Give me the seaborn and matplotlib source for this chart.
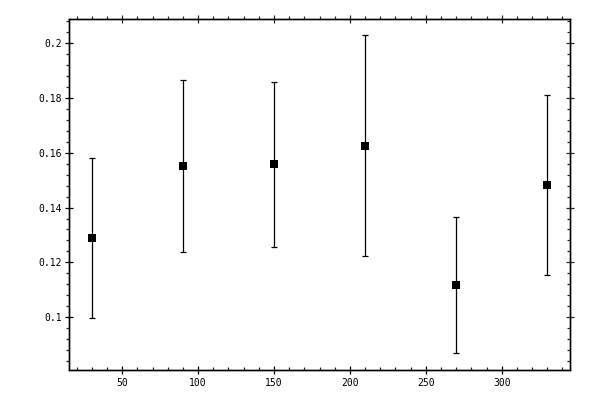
import matplotlib
matplotlib.use('Agg')
import matplotlib.pyplot as plt
from matplotlib.ticker import MultipleLocator, NullFormatter
import seaborn as sns
import pandas as pd

# values
angles = [30, 90, 150, 210, 270, 330]
means = [0.1288, 0.1551, 0.1558, 0.1625, 0.1117, 0.1482]
errors = [0.0292, 0.0312, 0.0300, 0.0402, 0.0248, 0.0327]

df = pd.DataFrame({'x': angles, 'y': means, 'err': errors})

sns.set_style('ticks')
plt.rcParams['font.family'] = ['DejaVu Sans Mono', 'DejaVu Sans']

XLIM = (15, 345)
YLIM = (0.0808, 0.2087)

fig = plt.figure(figsize=(6, 4), dpi=100)
ax = fig.add_axes([0.115, 0.075, 0.835, 0.8775])

ax.errorbar(df['x'], df['y'], yerr=df['err'], fmt='none', ecolor='black',
            elinewidth=0.9, capsize=2.2, capthick=0.9)
sns.scatterplot(data=df, x='x', y='y', marker='s', s=36, color='black',
                edgecolor='black', linewidth=0, ax=ax, zorder=3)

ax.set_xlim(*XLIM)
ax.set_ylim(*YLIM)
ax.set_xlabel('')
ax.set_ylabel('')

ax.xaxis.set_major_locator(MultipleLocator(50))
ax.xaxis.set_minor_locator(MultipleLocator(10))
ax.yaxis.set_major_locator(MultipleLocator(0.02))
ax.yaxis.set_minor_locator(MultipleLocator(0.004))
ax.yaxis.set_major_formatter(plt.FuncFormatter(lambda v, p: f'{v:g}'))

ax.tick_params(which='both', top=False, right=False, bottom=True, left=True)
ax.tick_params(which='major', direction='inout', length=5.8, width=0.9,
               labelsize=7, color='black', labelcolor='black')
ax.tick_params(axis='x', which='major', pad=3)
ax.tick_params(axis='y', which='major', pad=2)
ax.tick_params(axis='x', which='minor', direction='in', length=2.4, width=0.9)
ax.tick_params(axis='y', which='minor', direction='out', length=2.4, width=0.9)

# top axis: minor ticks point outward
top = ax.twiny()
top.set_xlim(*XLIM)
top.xaxis.set_major_locator(MultipleLocator(50))
top.xaxis.set_minor_locator(MultipleLocator(10))
top.xaxis.set_major_formatter(NullFormatter())
top.tick_params(which='both', top=True, bottom=False, labeltop=False)
top.tick_params(which='major', direction='inout', length=5.8, width=0.9)
top.tick_params(which='minor', direction='out', length=2.4, width=0.9)

# right axis: minor ticks point inward
right = ax.twinx()
right.set_ylim(*YLIM)
right.yaxis.set_major_locator(MultipleLocator(0.02))
right.yaxis.set_minor_locator(MultipleLocator(0.004))
right.yaxis.set_major_formatter(NullFormatter())
right.tick_params(which='both', right=True, left=False, labelright=False)
right.tick_params(which='major', direction='inout', length=5.8, width=0.9)
right.tick_params(which='minor', direction='in', length=2.4, width=0.9)

for a in (ax, top, right):
    for sp in a.spines.values():
        sp.set_visible(True)
        sp.set_color('black')
        sp.set_linewidth(0.9)

fig.savefig('out.png', dpi=100)
